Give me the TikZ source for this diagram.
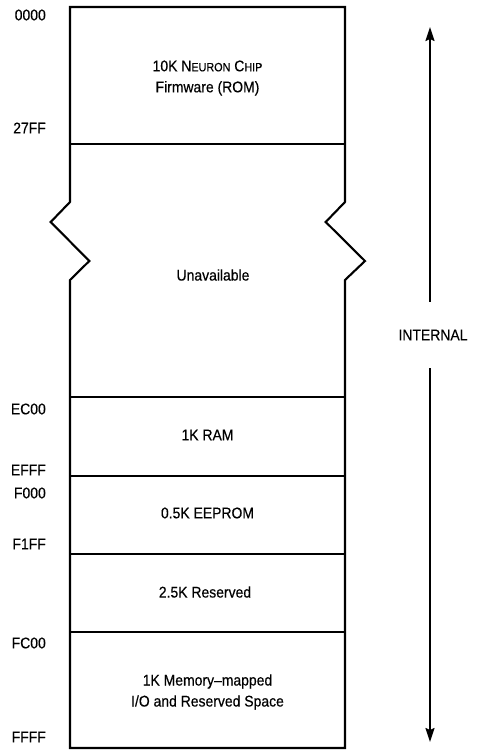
\documentclass[tikz,border=0pt]{standalone}
\usepackage{fontspec}
\setmainfont[FakeStretch=0.9,FakeBold=0.4]{Liberation Sans}
\usetikzlibrary{arrows.meta}
\begin{document}
\begin{tikzpicture}[x=1pt,y=-1pt,
  wall/.style={line width=2.1pt, line join=miter},
  divider/.style={line width=2.1pt},
  addr/.style={anchor=east, inner sep=0pt, font=\fontsize{15.5}{17}\selectfont},
  region/.style={align=center, inner sep=0pt, font=\fontsize{15.5}{21}\selectfont},
  span/.style={line width=1.7pt, -{Stealth[length=14pt,width=9pt,inset=2pt]}}]
\useasboundingbox (0,0) rectangle (478,751);
% outline with break marks
\draw[wall] (70,7) -- (345,7) -- (345,202) -- (325.7,222) -- (365,261) -- (345,280)
  -- (345,748) -- (70,748) -- (70,280) -- (89.3,261) -- (50.7,222) -- (70,202) -- cycle;
% dividers
\foreach \yy in {144,397,476,554,632} \draw[divider] (70,\yy) -- (345,\yy);
% region texts
\node[region] (rom) at (207.5,78) {10K N{\fontsize{12}{12}\selectfont EURON} C{\fontsize{12}{12}\selectfont HIP}\\Firmware (ROM)};
\node[region] (unav) at (213,275) {Unavailable};
\node[region] (ram) at (207.5,435) {1K RAM};
\node[region] (eeprom) at (207.5,513) {0.5K EEPROM};
\node[region] (res) at (205,592) {2.5K Reserved};
\node[region] (io) at (207.5,692) {1K Memory--mapped\\I/O and Reserved Space};
% addresses
\node[addr] (a0) at (46,15) {0000};
\node[addr] (a1) at (46,128) {27FF};
\node[addr] (a2) at (46,409) {EC00};
\node[addr] (a3) at (46,470) {EFFF};
\node[addr] (a4) at (46,493) {F000};
\node[addr] (a5) at (46,544) {F1FF};
\node[addr] (a6) at (46,643) {FC00};
\node[addr] (a7) at (46,737) {FFFF};
% internal span
\node[region, minimum height=66pt] (internal) at (433,335) {INTERNAL};
\coordinate (top) at (430,27);
\coordinate (bot) at (430,742);
\draw[span] (internal.north -| top) -- (top);
\draw[span] (internal.south -| bot) -- (bot);
\end{tikzpicture}
\end{document}
